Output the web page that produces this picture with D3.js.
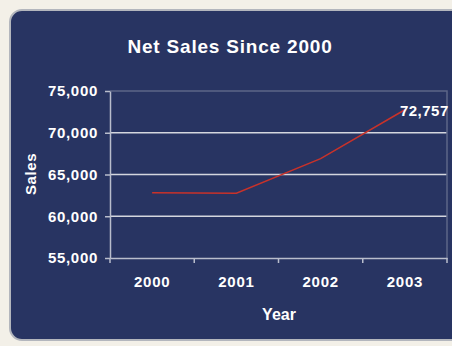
<!DOCTYPE html>
<html>
<head>
<meta charset="utf-8">
<script src="https://cdn.jsdelivr.net/npm/d3@7"></script>
<style>
  body { margin: 0; background: #f3f0e8; }
  svg { display: block; font-family: "Liberation Sans", Arial, sans-serif; }
</style>
</head>
<body>
<svg></svg>
<script>
var years = ["2000", "2001", "2002", "2003"];
var sales = [62800, 62750, 66900, 72757];
var yTicks = [55000, 60000, 65000, 70000, 75000];

var svgWidth = 452, svgHeight = 346;
var plot = { left: 110, right: 447, top: 91, bottom: 258 };

var svg = d3.select("svg")
    .attr("width", svgWidth)
    .attr("height", svgHeight);

// dark panel
svg.append("rect")
    .attr("x", 10).attr("y", 10)
    .attr("width", 470).attr("height", 330)
    .attr("rx", 12)
    .attr("fill", "#283462")
    .attr("stroke", "#b3b6bd")
    .attr("stroke-width", 2);

var xScale = d3.scaleBand()
    .domain(years)
    .range([plot.left, plot.right]);

var yScale = d3.scaleLinear()
    .domain([55000, 75000])
    .range([plot.bottom, plot.top]);

// gridlines
svg.selectAll("line.grid")
    .data(yTicks.slice(1, 4))
    .enter()
    .append("line")
    .attr("class", "grid")
    .attr("x1", plot.left).attr("x2", plot.right)
    .attr("y1", d => yScale(d)).attr("y2", d => yScale(d))
    .attr("stroke", "#d4d6de")
    .attr("stroke-width", 1.5);

// top and right border of plot
svg.append("path")
    .attr("d", "M" + plot.left + "," + yScale(75000) + "H" + plot.right + "V" + yScale(55000))
    .attr("fill", "none")
    .attr("stroke", "#5c6588")
    .attr("stroke-width", 1.5);

var yAxis = svg.append("g")
    .attr("transform", "translate(" + plot.left + ",0)")
    .call(d3.axisLeft(yScale).tickValues(yTicks).tickFormat(d3.format(",")).tickSize(5).tickSizeOuter(0));

var xAxis = svg.append("g")
    .attr("transform", "translate(0," + plot.bottom + ")")
    .call(d3.axisBottom(xScale).tickSize(5).tickSizeOuter(0));

// ticks on band edges instead of centers
xAxis.selectAll(".tick line").attr("transform", "translate(" + (-xScale.bandwidth() / 2) + ",0)");
xAxis.append("line")
    .attr("x1", plot.right).attr("x2", plot.right)
    .attr("y1", 0).attr("y2", 5);

[yAxis, xAxis].forEach(function (ax) {
  ax.select(".domain").attr("stroke", "#b9bdcc").attr("stroke-width", 1.5);
  ax.selectAll("line").attr("stroke", "#b9bdcc").attr("stroke-width", 1.5);
  ax.selectAll("text")
    .attr("fill", "#ffffff")
    .attr("font-size", 15)
    .attr("font-weight", "bold")
    .attr("letter-spacing", 0.7)
    .attr("font-family", "Liberation Sans, Arial, sans-serif");
});
yAxis.selectAll("text").attr("x", -12);
xAxis.selectAll("text").attr("y", 18);

// sales line
var line = d3.line()
    .x((d, i) => xScale(years[i]) + xScale.bandwidth() / 2)
    .y(d => yScale(d));

svg.append("path")
    .datum(sales)
    .attr("d", line)
    .attr("fill", "none")
    .attr("stroke", "#c8322a")
    .attr("stroke-width", 1.5);

// last value label
svg.append("text")
    .attr("x", xScale(years[3]) + xScale.bandwidth() / 2 - 5)
    .attr("y", yScale(sales[3]) + 6)
    .text(d3.format(",")(sales[3]))
    .attr("fill", "#ffffff")
    .attr("font-size", 15)
    .attr("letter-spacing", 0.5)
    .attr("font-weight", "bold");

// titles
svg.append("text")
    .attr("x", 230).attr("y", 53)
    .attr("text-anchor", "middle")
    .text("Net Sales Since 2000")
    .attr("fill", "#ffffff")
    .attr("font-size", 19)
    .attr("letter-spacing", 0.8)
    .attr("font-weight", "bold");

svg.append("text")
    .attr("x", 279).attr("y", 320)
    .attr("text-anchor", "middle")
    .text("Year")
    .attr("fill", "#ffffff")
    .attr("font-size", 16)
    .attr("font-weight", "bold");

svg.append("text")
    .attr("transform", "translate(36,174) rotate(-90)")
    .attr("text-anchor", "middle")
    .text("Sales")
    .attr("fill", "#ffffff")
    .attr("font-size", 15)
    .attr("letter-spacing", 0.6)
    .attr("font-weight", "bold");
</script>
</body>
</html>
